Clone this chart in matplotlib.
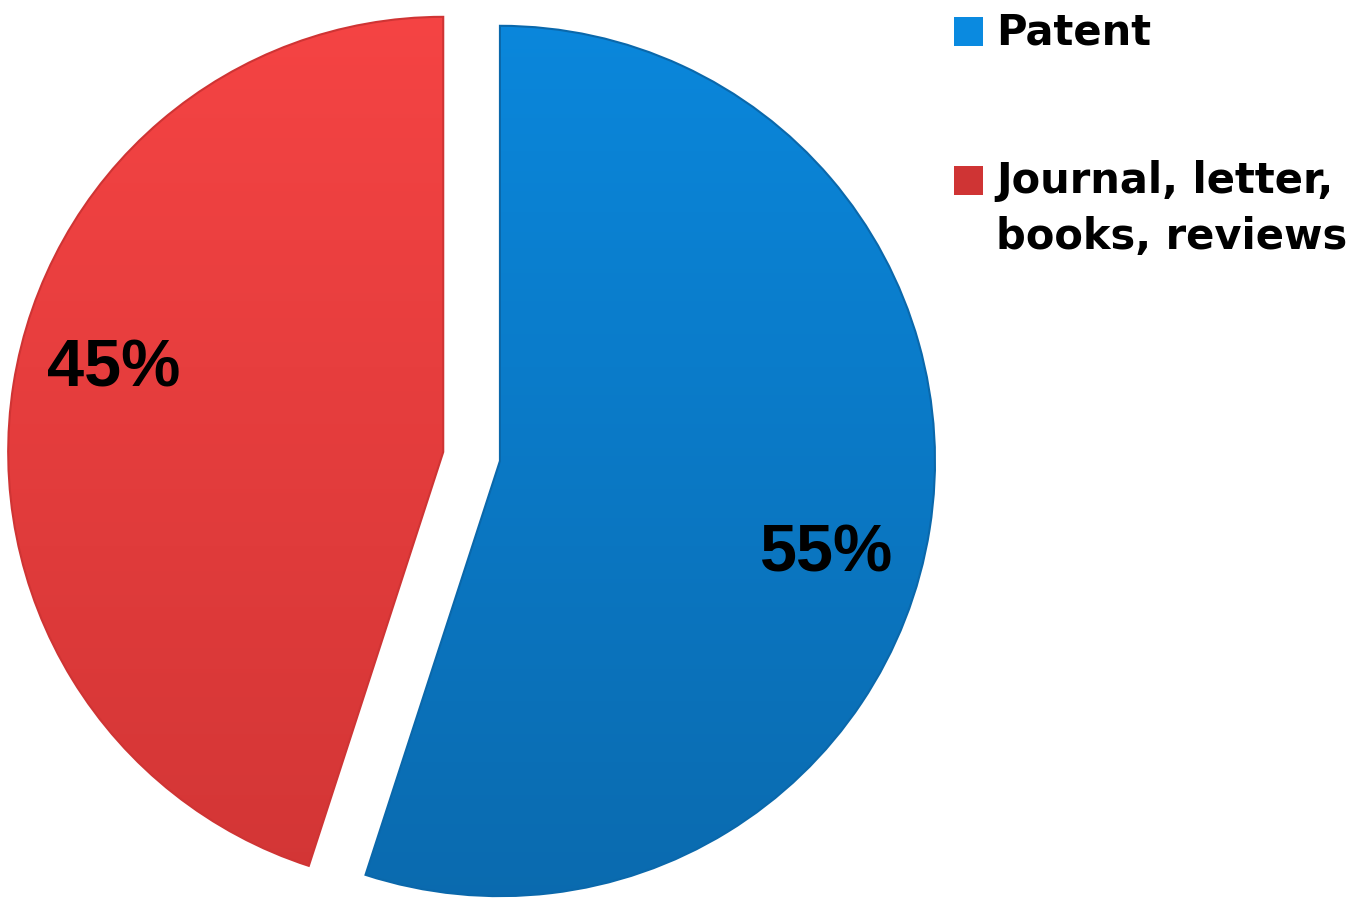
import numpy as np
import matplotlib
matplotlib.use("Agg")
import matplotlib.pyplot as plt
from matplotlib.patches import Rectangle

# --- Data ---
categories = ["Patent", "Journal, letter,\nbooks, reviews"]
shares = [55, 45]
top_colors = ["#0a8ae0", "#f84545"]
bottom_colors = ["#0a68ab", "#cf3434"]

plt.rcParams["font.family"] = ["Liberation Sans", "DejaVu Sans"]

fig = plt.figure(figsize=(13.63, 9.06), dpi=100)
ax = fig.add_axes([0, 0, 1, 1])

wedges, texts, autotexts = ax.pie(
    shares, startangle=90, counterclock=False,
    colors=bottom_colors, explode=[0.066, 0.066],
    autopct="%d%%", pctdistance=0.78,
    wedgeprops=dict(linewidth=0),
)

# --- Vertical gradient fill clipped to each wedge ---
for w, c_top, c_bot in zip(wedges, top_colors, bottom_colors):
    t = np.linspace(0, 1, 256)[:, None]
    ct = np.array(matplotlib.colors.to_rgb(c_top))
    cb = np.array(matplotlib.colors.to_rgb(c_bot))
    grad = ct[None, None, :] * (1 - t[..., None]) + cb[None, None, :] * t[..., None]
    grad = np.repeat(grad, 2, axis=1)
    im = ax.imshow(grad, extent=[-1.3, 1.3, -1.2, 1.2], origin="upper",
                   aspect="auto", zorder=1)
    im.set_clip_path(w)
    # subtle darker rim
    w.set_edgecolor(c_bot)
    w.set_linewidth(1.5)
    w.set_zorder(2)
    w.set_facecolor("none")

# --- Percentage labels, nudged a bit along the arc ---
label_shift_deg = [-7, -5]
for at, w, sh in zip(autotexts, wedges, label_shift_deg):
    mid = np.deg2rad((w.theta1 + w.theta2) / 2 + sh)
    cx, cy = w.center
    at.set_position((cx + 0.78 * np.cos(mid), cy + 0.78 * np.sin(mid)))
    at.set_fontsize(48)
    at.set_fontweight("bold")
    at.set_color("black")
    at.set_zorder(5)

ax.set_aspect("auto")
ax.set_xlim(-1.084, 2.049)
ax.set_ylim(-1.033, 1.049)
ax.axis("off")

# --- Legend drawn by hand ---
leg_y = [0.965, 0.801]
for lab, col, y in zip(categories, [top_colors[0], bottom_colors[1]], leg_y):
    fig.patches.append(Rectangle((0.700, y - 0.016), 0.0213, 0.032,
                                 transform=fig.transFigure, facecolor=col,
                                 edgecolor="none"))
    fig.text(0.731, y + 0.022, lab, fontsize=30, fontweight="bold",
             family="DejaVu Sans", va="top", ha="left", linespacing=1.4)

fig.savefig("out.png", dpi=100, facecolor="white")
